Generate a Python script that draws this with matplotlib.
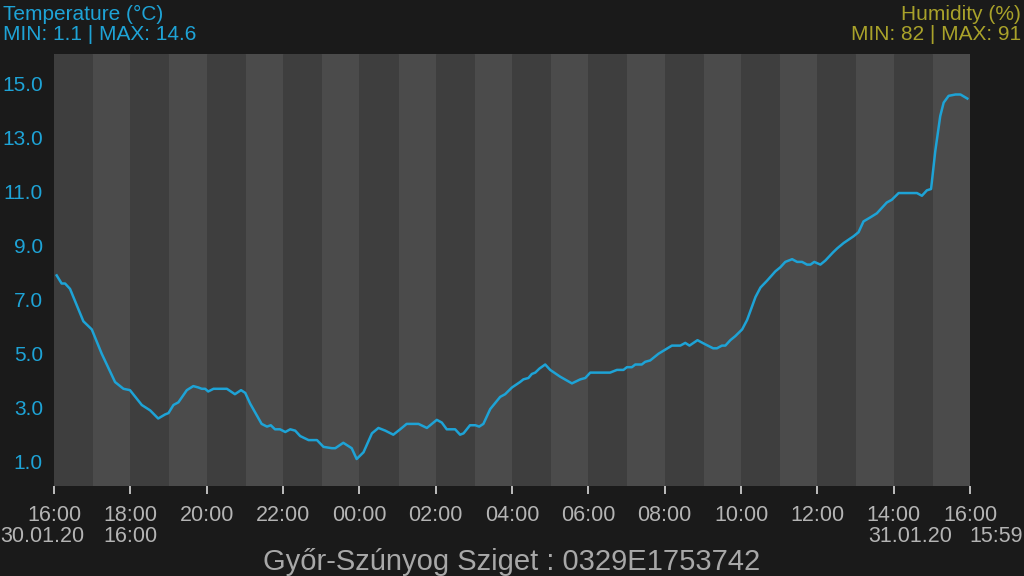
import matplotlib
matplotlib.use("Agg")
import matplotlib.pyplot as plt

plt.rcParams['font.family'] = ['Liberation Sans', 'DejaVu Sans']

# hours since 30.01.20 16:00
hours = [0.07, 0.20, 0.29, 0.42, 0.77, 0.99, 1.25, 1.60, 1.82, 1.99, 2.30, 2.52, 2.73, 2.91,
         3.00, 3.13, 3.26, 3.48, 3.65, 3.78, 3.87, 3.96, 4.04, 4.18, 4.53, 4.74, 4.90, 5.01,
         5.14, 5.44, 5.58, 5.68, 5.79, 5.92, 6.06, 6.19, 6.32, 6.45, 6.67, 6.89, 7.06, 7.28,
         7.37, 7.58, 7.80, 7.93, 8.11, 8.33, 8.50, 8.68, 8.89, 9.07, 9.24, 9.55, 9.77, 10.03,
         10.16, 10.29, 10.51, 10.64, 10.73, 10.90, 11.04, 11.14, 11.25, 11.43, 11.69, 11.82,
         12.00, 12.21, 12.30, 12.43, 12.52, 12.61, 12.72, 12.87, 13.00, 13.26, 13.57, 13.79,
         13.92, 14.05, 14.57, 14.75, 14.92, 15.01, 15.14, 15.23, 15.40, 15.49, 15.62, 15.84,
         16.19, 16.41, 16.54, 16.65, 16.86, 17.06, 17.27, 17.37, 17.50, 17.59, 17.72, 17.85,
         18.03, 18.16, 18.38, 18.51, 18.68, 18.90, 19.03, 19.16, 19.34, 19.47, 19.60, 19.73,
         19.82, 19.92, 20.08, 20.21, 20.41, 20.52, 20.69, 20.95, 21.08, 21.21, 21.39, 21.56,
         21.82, 21.95, 22.13, 22.48, 22.61, 22.74, 22.87, 22.98, 23.09, 23.22, 23.31, 23.44,
         23.62, 23.75, 23.93]
temp = [7.9, 7.6, 7.6, 7.4, 6.2, 5.9, 5.0, 3.95, 3.7, 3.65, 3.1, 2.9, 2.6, 2.75,
        2.8, 3.1, 3.2, 3.65, 3.8, 3.75, 3.7, 3.7, 3.6, 3.7, 3.7, 3.5, 3.65, 3.55,
        3.15, 2.4, 2.3, 2.35, 2.2, 2.2, 2.1, 2.2, 2.15, 1.95, 1.8, 1.8, 1.55, 1.5,
        1.5, 1.7, 1.5, 1.1, 1.35, 2.05, 2.25, 2.15, 2.0, 2.2, 2.4, 2.4, 2.25, 2.55,
        2.45, 2.2, 2.2, 2.0, 2.05, 2.35, 2.35, 2.3, 2.4, 2.95, 3.4, 3.5,
        3.75, 3.95, 4.05, 4.1, 4.25, 4.3, 4.45, 4.6, 4.4, 4.15, 3.9, 4.05,
        4.1, 4.3, 4.3, 4.4, 4.4, 4.5, 4.5, 4.6, 4.6, 4.7, 4.75, 5.0,
        5.3, 5.3, 5.4, 5.3, 5.5, 5.35, 5.2, 5.2, 5.3, 5.3, 5.5, 5.65,
        5.9, 6.25, 7.1, 7.45, 7.7, 8.05, 8.2, 8.4, 8.5, 8.4, 8.4, 8.3,
        8.3, 8.4, 8.3, 8.45, 8.75, 8.9, 9.1, 9.35, 9.5, 9.9, 10.05, 10.2,
        10.6, 10.7, 10.95, 10.95, 10.95, 10.85, 11.05, 11.1, 12.5, 13.8, 14.3, 14.55,
        14.6, 14.6, 14.45]

yticks = [1, 3, 5, 7, 9, 11, 13, 15]
xtick_hours = list(range(0, 25, 2))
start_hour = 16

bg = '#1a1a1a'
dark = '#3e3e3e'
light = '#4b4b4b'
temp_col = '#1ea3d6'
hum_col = '#a9a22a'
grey = '#b4b4b4'

fig = plt.figure(figsize=(10.24, 5.76), dpi=100, facecolor=bg)
ax = fig.add_axes([54 / 1024, 90 / 576, 916 / 1024, 432 / 576])
ax.set_facecolor(light)

# darker stripe every other hour
for h in range(0, 24, 2):
    ax.axvspan(h, h + 1, facecolor=dark, edgecolor=dark, lw=0.6, zorder=0)

ax.plot(hours, temp, color=temp_col, lw=1.8, zorder=2, solid_joinstyle='round')

ax.set_xlim(0, 24)
ax.set_ylim(0.1, 16.1)
ax.set_yticks(yticks)
ax.set_yticklabels([f"{v:.1f}" for v in yticks])
ax.set_xticks(xtick_hours)
ax.set_xticklabels([f"{(start_hour + h) % 24:02d}:00" for h in xtick_hours])
ax.tick_params(axis='y', length=0, pad=8, labelcolor=temp_col, labelsize=15)
ax.tick_params(axis='x', length=6, width=1.2, color='#d8d8d8', pad=8,
               labelcolor=grey, labelsize=15.5)
for s in ax.spines.values():
    s.set_visible(False)

fig.text(3 / 1024, 1 - 14 / 576, "Temperature (°C)", color=temp_col, fontsize=15, va='center')
fig.text(3 / 1024, 1 - 35 / 576, "MIN: 1.1 | MAX: 14.6", color=temp_col, fontsize=15, va='center')
fig.text(1021 / 1024, 1 - 14 / 576, "Humidity (%)", color=hum_col, fontsize=15, va='center', ha='right')
fig.text(1021 / 1024, 1 - 35 / 576, "MIN: 82 | MAX: 91", color=hum_col, fontsize=15, va='center', ha='right')

fig.text(0 / 1024, 1 - 536 / 576, "30.01.20", color=grey, fontsize=15.5, va='center')
fig.text(103 / 1024, 1 - 536 / 576, "16:00", color=grey, fontsize=15.5, va='center')
fig.text(868 / 1024, 1 - 536 / 576, "31.01.20", color=grey, fontsize=15.5, va='center')
fig.text(1023 / 1024, 1 - 536 / 576, "15:59", color=grey, fontsize=15.5, va='center', ha='right')

fig.text(0.5, 1 - 562 / 576, "Győr-Szúnyog Sziget : 0329E1753742", color='#a8a8a8',
         fontsize=21, va='center', ha='center')

fig.savefig("out.png", dpi=100, facecolor=bg)
